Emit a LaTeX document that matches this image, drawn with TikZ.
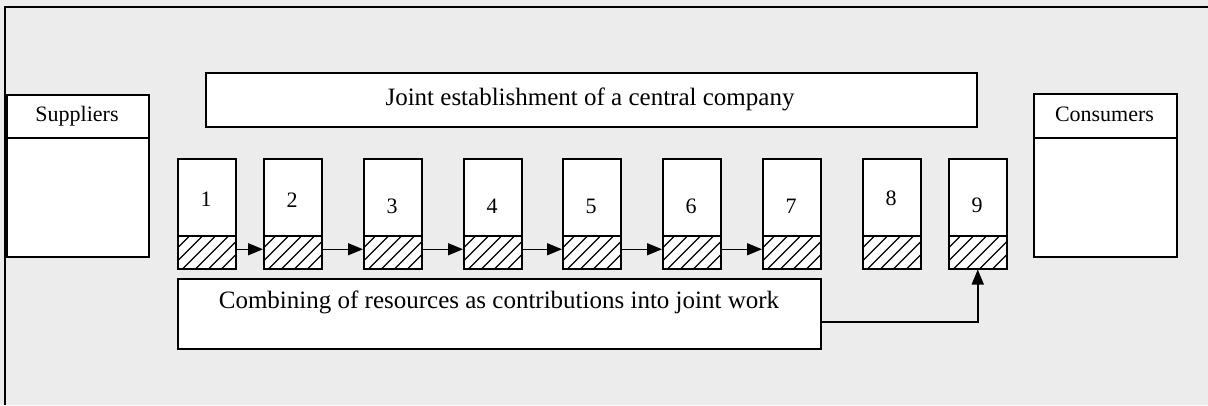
\documentclass[tikz,border=0pt]{standalone}
\usepackage{fontspec}
\setmainfont{Liberation Serif}
\usetikzlibrary{arrows.meta}
\definecolor{bg}{RGB}{236,236,236}
\begin{document}
\begin{tikzpicture}[x=1pt,y=-1pt,
  every node/.style={font=\fontsize{22}{26}\selectfont},
  big/.style={font=\fontsize{25}{30}\selectfont},
  box/.style={draw, fill=white, line width=1.5pt, inner sep=0pt, anchor=north west},
  hatchbox/.style={box, path picture={
      \foreach \k in {-60,-47,...,80}
        \draw[line width=1.1pt] ([xshift=\k pt]path picture bounding box.south west) -- ++(40pt,40pt);}},
  arr/.style={line width=1.5pt, -{Triangle[length=15pt,width=12pt]}}
]
\useasboundingbox (0,0) rectangle (1208,405);
\fill[bg] (0,0) rectangle (1208,405);
\draw[line width=1.5pt] (5,405) -- (5,7) -- (1208,7);

% Suppliers
\node[box, minimum width=142pt, minimum height=43pt] (suph) at (6,94) {};
\node[box, minimum width=142pt, minimum height=119pt] (supb) at (6,137) {};
\node (supt) at (77,116) {Suppliers};

% Consumers
\node[box, minimum width=143pt, minimum height=44pt] (conh) at (1033,93) {};
\node[box, minimum width=143pt, minimum height=119pt] (conb) at (1033,137) {};
\node (cont) at (1104.5,114) {Consumers};

% Joint establishment
\node[box, minimum width=771pt, minimum height=54pt] (joint) at (205,72) {};
\node[big] (jointt) at (590,99) {Joint establishment of a central company};

% Combining
\node[box, minimum width=643pt, minimum height=70pt] (comb) at (177,278) {};
\node[big] (combt) at (499,302) {Combining of resources as contributions into joint work};

% numbered boxes
\foreach \i/\x/\ty in {1/177/199, 2/263/200, 3/363/206, 4/463/206, 5/562/206, 6/662/206, 7/762/206, 8/862/198, 9/948/205} {
  \node[box, minimum width=58pt, minimum height=77pt] (b\i) at (\x,158) {};
  \node[hatchbox, minimum width=58pt, minimum height=33pt] (h\i) at (\x,235) {};
  \node (n\i) at (\x+29,\ty) {\i};
}

\foreach \a/\b in {1/2,2/3,3/4,4/5,5/6,6/7}
  \draw[arr] ([yshift=3pt]h\a.east) -- ([yshift=3pt]h\b.west);

\draw[arr] ([yshift=-8pt]comb.east) -| (h9.south);
\end{tikzpicture}
\end{document}
